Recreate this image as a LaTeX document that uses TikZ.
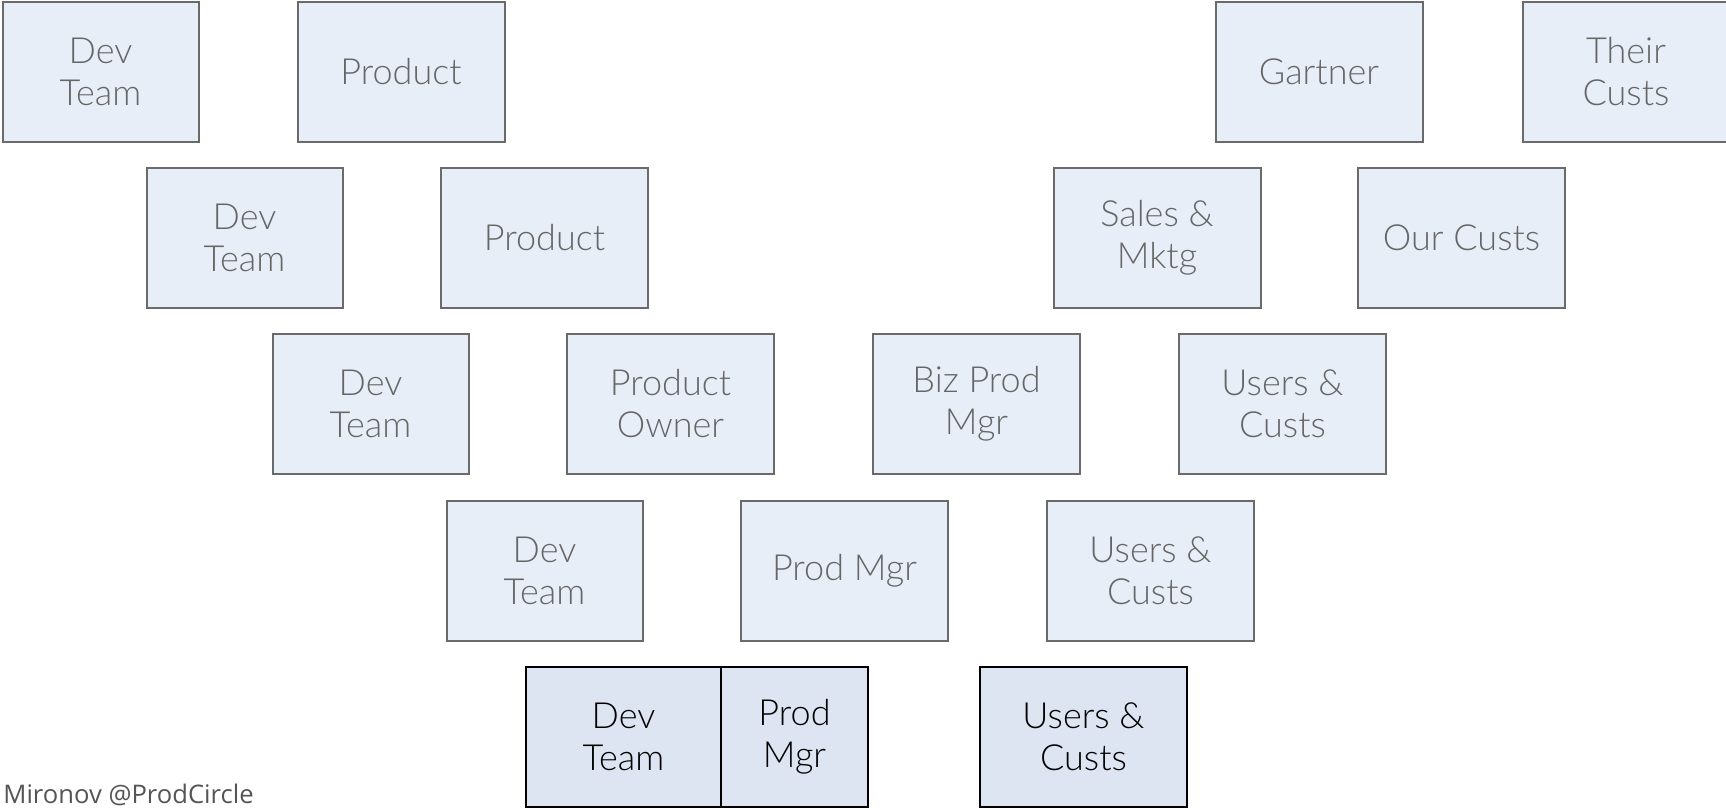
\documentclass[tikz,border=0pt]{standalone}
\usepackage{fontspec}
\setmainfont{Lato}[UprightFont={* Light}]
\newfontfamily\footfont{Open Sans}
\definecolor{boxfill}{HTML}{E8EEF7}
\definecolor{boxfilldark}{HTML}{DCE5F1}
\definecolor{boxline}{HTML}{6A6A6A}
\definecolor{boxtext}{HTML}{666666}
\definecolor{foottext}{HTML}{555555}
\begin{document}
\begin{tikzpicture}[x=0.5pt,y=-0.5pt,
  box/.style={draw=boxline, fill=boxfill, line width=1pt, rectangle,
    minimum height=70pt, minimum width=103.5pt, inner sep=0pt,
    text=boxtext, font=\fontsize{18}{21}\selectfont, align=center},
  devbox/.style={box, minimum width=98pt},
  nowbox/.style={box, fill=boxfilldark, draw=black, text=black},
  foot/.style={font=\footfont\fontsize{12.8}{14}\selectfont, text=foottext, inner sep=0pt, anchor=base west}]
\useasboundingbox (0,0) rectangle (1726,808);
% row 1
\node[devbox] (d1) at (100.5,72) {Dev\\Team};
\node[box] (p1) at (401,72) {Product};
\node[box] (g1) at (1319,72) {Gartner};
\node[box] (t1) at (1626,72) {Their\\Custs};
% row 2
\node[devbox] (d2) at (244.5,238) {Dev\\Team};
\node[box] (p2) at (544.5,238) {Product};
\node[box] (s2) at (1157,238) {Sales \&\\Mktg};
\node[box] (o2) at (1461.5,238) {Our Custs};
% row 3
\node[devbox] (d3) at (370.5,404) {Dev\\Team};
\node[box] (p3) at (670.5,404) {Product\\Owner};
\node[box] (b3) at (976.5,404) {Biz Prod\\Mgr};
\node[box] (u3) at (1282.5,404) {Users \&\\Custs};
% row 4
\node[devbox] (d4) at (544.5,570.5) {Dev\\Team};
\node[box] (m4) at (844.5,570.5) {Prod Mgr};
\node[box] (u4) at (1150.5,570.5) {Users \&\\Custs};
% row 5
\node[nowbox, minimum width=97.5pt] (d5) at (623.5,736.5) {Dev\\Team};
\node[nowbox, minimum width=73.5pt] (m5) at (794.5,736.5) {Prod\\Mgr};
\node[nowbox] (u5) at (1083.5,736.5) {Users \&\\Custs};
% footer
\node[foot] (f) at (3,803) {Mironov @ProdCircle};
\end{tikzpicture}
\end{document}
